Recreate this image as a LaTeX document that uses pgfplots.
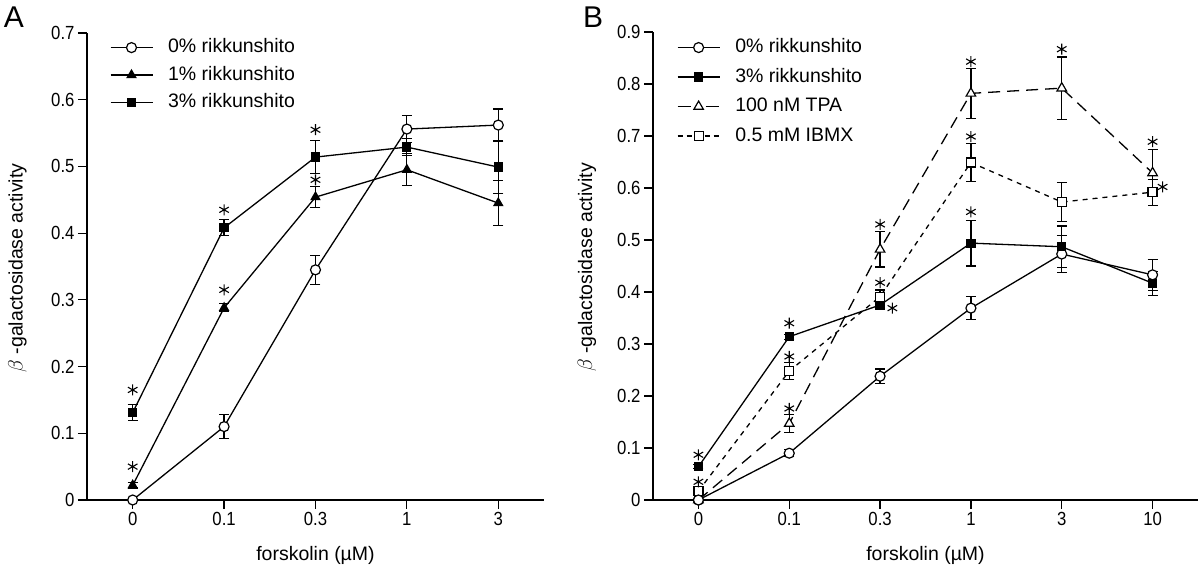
\documentclass[border=0pt]{standalone}
\usepackage{fontspec}
\setmainfont{Liberation Sans}
\newfontfamily\narrowfont[FakeStretch=0.88]{Liberation Sans}
\usepackage{pgfplots}
\pgfplotsset{compat=1.18}

\pgfplotsset{
  myaxis/.style={
    scale only axis,
    axis x line*=bottom, axis y line*=left,
    axis line style={line width=1.2pt,-},
    tick align=outside, major tick length=9pt,
    tick style={line width=1.2pt, black},
    ymin=0, xmin=-0.5,
    clip=false,
    /pgf/number format/assume math mode=true,
    ticklabel style={font=\narrowfont\fontsize{19}{21}\selectfont},
    label style={font=\fontsize{19.5}{22}\selectfont},
    legend cell align=left,
    legend style={draw=none, fill=none, inner sep=0pt, outer sep=0pt, anchor=north west,
      font=\fontsize{19.5}{22}\selectfont,
      nodes={inner sep=0pt, text height=14pt, text depth=4pt},
      /tikz/every odd column/.append style={column sep=15pt}},
    legend image code/.code={\draw[mark repeat=2,mark phase=2] plot coordinates {(0pt,0pt) (21pt,0pt) (42pt,0pt)};},
    xlabel={forskolin (\textmu M)},
    ylabel={$\beta$ -galactosidase activity},
  },
  ser/.style={black, line width=1.3pt,
    error bars/y dir=both, error bars/y explicit,
    error bars/error mark=-,
    error bars/error bar style={line width=1.2pt, solid},
    error bars/error mark options={rotate=90, mark size=5pt, line width=1.2pt, solid}},
  stars/.style={only marks, mark=asterisk, mark size=5.5pt, black, forget plot,
    mark options={line width=1.1pt, solid}},
}

\begin{document}
\begin{tikzpicture}
\path[use as bounding box] (0,0) rectangle (1200pt,570pt);

\node[font=\fontsize{30}{32}\selectfont] at (14pt,553pt) {A};
\node[font=\fontsize{30}{32}\selectfont] at (593pt,553pt) {B};

% ---------------- Panel A ----------------
\begin{axis}[myaxis,
  at={(87pt,70pt)}, anchor=south west,
  width=457pt, height=467pt,
  xmax=4.5, ymax=0.7,
  xtick={0,1,2,3,4}, xticklabels={0,0.1,0.3,1,3},
  ytick={0,0.1,0.2,0.3,0.4,0.5,0.6,0.7},
  yticklabels={0,0.1,0.2,0.3,0.4,0.5,0.6,0.7},
  ylabel style={at={(axis description cs:-0.152,0.497)}, anchor=center},
  xlabel style={at={(axis description cs:0.5,-0.118)}, anchor=center},
  legend style={at={(axis description cs:0.05,0.988)}, row sep=9.5pt},
]
\addplot[ser, mark=*, mark size=5pt, mark options={solid, line width=1.2pt, fill=white}] coordinates {
  (0,0.000) +- (0,0.000)
  (1,0.110) +- (0,0.018)
  (2,0.345) +- (0,0.022)
  (3,0.556) +- (0,0.020)
  (4,0.562) +- (0,0.024)
};
\addlegendentry{0\% rikkunshito}
\addplot[ser, mark=triangle*, mark size=5pt, mark options={solid, line width=1.2pt, fill=black}] coordinates {
  (0,0.022) +- (0,0.004)
  (1,0.288) +- (0,0.006)
  (2,0.454) +- (0,0.016)
  (3,0.495) +- (0,0.024)
  (4,0.445) +- (0,0.034)
};
\addlegendentry{1\% rikkunshito}
\addplot[ser, mark=square*, mark size=4pt, mark options={solid, line width=1.2pt, fill=black}] coordinates {
  (0,0.131) +- (0,0.012)
  (1,0.408) +- (0,0.012)
  (2,0.514) +- (0,0.025)
  (3,0.529) +- (0,0.013)
  (4,0.499) +- (0,0.040)
};
\addlegendentry{3\% rikkunshito}
\addplot[stars] coordinates {
  (0,0.165) (0,0.050) (1,0.435) (1,0.315) (2,0.555) (2,0.480)
};
\end{axis}

% ---------------- Panel B ----------------
\begin{axis}[myaxis,
  at={(653pt,70pt)}, anchor=south west,
  width=545pt, height=468pt,
  xmax=5.5, ymax=0.9,
  xtick={0,1,2,3,4,5}, xticklabels={0,0.1,0.3,1,3,10},
  ytick={0,0.1,0.2,0.3,0.4,0.5,0.6,0.7,0.8,0.9},
  yticklabels={0,0.1,0.2,0.3,0.4,0.5,0.6,0.7,0.8,0.9},
  ylabel style={at={(axis description cs:-0.121,0.497)}, anchor=center},
  xlabel style={at={(axis description cs:0.5,-0.118)}, anchor=center},
  legend style={at={(axis description cs:0.044,0.986)}, row sep=11.5pt},
]
\addplot[ser, mark=*, mark size=5pt, mark options={solid, line width=1.2pt, fill=white}] coordinates {
  (0,0.000) +- (0,0.000)
  (1,0.090) +- (0,0.007)
  (2,0.238) +- (0,0.014)
  (3,0.369) +- (0,0.022)
  (4,0.473) +- (0,0.035)
  (5,0.433) +- (0,0.030)
};
\addlegendentry{0\% rikkunshito}
\addplot[ser, mark=square*, mark size=4pt, mark options={solid, line width=1.2pt, fill=black}] coordinates {
  (0,0.064) +- (0,0.004)
  (1,0.314) +- (0,0.005)
  (2,0.375) +- (0,0.006)
  (3,0.494) +- (0,0.044)
  (4,0.487) +- (0,0.040)
  (5,0.417) +- (0,0.023)
};
\addlegendentry{3\% rikkunshito}
\addplot[ser, dash pattern=on 12pt off 7pt, mark=triangle*, mark size=5.5pt, mark options={solid, line width=1.2pt, fill=white},
  legend image post style={dash pattern=on 13pt off 15pt}] coordinates {
  (0,0.000) +- (0,0.000)
  (1,0.147) +- (0,0.017)
  (2,0.482) +- (0,0.034)
  (3,0.782) +- (0,0.048)
  (4,0.792) +- (0,0.060)
  (5,0.629) +- (0,0.045)
};
\addlegendentry{100 nM TPA}
\addplot[ser, dash pattern=on 5pt off 5pt, mark=square*, mark size=4.5pt, mark options={solid, line width=1.2pt, fill=white},
  legend image post style={dash pattern=on 5pt off 4pt}] coordinates {
  (0,0.017) +- (0,0.007)
  (1,0.248) +- (0,0.016)
  (2,0.391) +- (0,0.013)
  (3,0.649) +- (0,0.037)
  (4,0.573) +- (0,0.037)
  (5,0.592) +- (0,0.025)
};
\addlegendentry{0.5 mM IBMX}
\addplot[forget plot, only marks, black, mark=*, mark size=5pt, mark options={fill=white, line width=1.2pt}] coordinates {
  (0,0.000)
};
\addplot[stars] coordinates {
  (0,0.087) (0,0.035) (1,0.340) (1,0.276) (1,0.176)
  (2,0.530) (2,0.418) (2.135,0.369)
  (3,0.554) (3,0.699) (3,0.843) (4,0.867) (5,0.689) (5.11,0.602)
};
\end{axis}
\end{tikzpicture}
\end{document}
